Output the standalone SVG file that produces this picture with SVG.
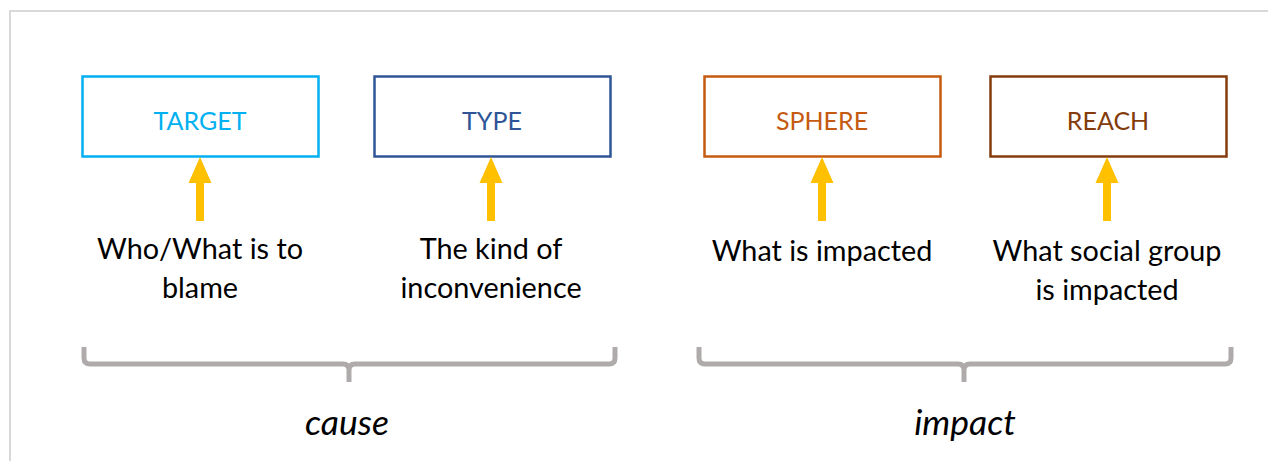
<svg xmlns="http://www.w3.org/2000/svg" width="1268" height="461" viewBox="0 0 1268 461">
<style>
.box{fill:#ffffff;stroke-width:2.5}
.lbl{font-family:Lato,"Open Sans",sans-serif;font-size:25px;text-anchor:middle}
.desc{font-family:Lato,"Open Sans",sans-serif;font-size:28.8px;text-anchor:middle;fill:#000000}
.grp{font-family:Lato,"Open Sans",sans-serif;font-size:35.5px;font-style:italic;text-anchor:middle;fill:#000000}
.arrow{fill:#ffc000}
.brace{fill:none;stroke:#afabab;stroke-width:5;stroke-linejoin:round}
</style>
<defs>
<path id="arr" d="M0,0 L11.5,26 L4,26 L4,64 L-4,64 L-4,26 L-11.5,26 Z"/>
</defs>
<rect x="0" y="0" width="1268" height="461" fill="#ffffff"/>
<rect x="10" y="11" width="1300" height="500" fill="none" stroke="#d9d9d9" stroke-width="2"/>

<g id="target">
<rect class="box" x="82.5" y="76.5" width="236" height="80" stroke="#00b0f0"/>
<text class="lbl" x="200" y="130" fill="#00b0f0">TARGET</text>
</g>
<g id="type">
<rect class="box" x="374.5" y="76.5" width="236" height="80" stroke="#2f5597"/>
<text class="lbl" x="492" y="130" fill="#2f5597">TYPE</text>
</g>
<g id="sphere">
<rect class="box" x="704.5" y="76.5" width="236" height="80" stroke="#c55a11"/>
<text class="lbl" x="822" y="130" fill="#c55a11">SPHERE</text>
</g>
<g id="reach">
<rect class="box" x="990.5" y="76.5" width="236" height="80" stroke="#843c0c"/>
<text class="lbl" x="1108" y="130" fill="#843c0c">REACH</text>
</g>

<g id="desc-target">
<text class="desc" x="200" y="259">Who/What is to</text>
<text class="desc" x="200" y="298">blame</text>
</g>
<g id="desc-type">
<text class="desc" x="491" y="259">The kind of</text>
<text class="desc" x="491" y="298">inconvenience</text>
</g>
<g id="desc-sphere">
<text class="desc" x="822" y="261">What is impacted</text>
</g>
<g id="desc-reach">
<text class="desc" x="1107" y="261">What social group</text>
<text class="desc" x="1107" y="300">is impacted</text>
</g>

<g id="connectors">
<use href="#arr" class="arrow" x="200" y="157"/>
<use href="#arr" class="arrow" x="491" y="157"/>
<use href="#arr" class="arrow" x="822" y="157"/>
<use href="#arr" class="arrow" x="1107" y="157"/>
</g>

<g id="cause">
<path class="brace" d="M84,347 V358 Q84,364 90,364 H343 Q349,364 349,370 V382 M349,370 Q349,364 355,364 H609 Q615,364 615,358 V347"/>
<text class="grp" x="347" y="435">cause</text>
</g>
<g id="impact">
<path class="brace" d="M699,347 V358 Q699,364 705,364 H958 Q964,364 964,370 V382 M964,370 Q964,364 970,364 H1225 Q1231,364 1231,358 V347"/>
<text class="grp" x="965" y="435">impact</text>
</g>
</svg>
